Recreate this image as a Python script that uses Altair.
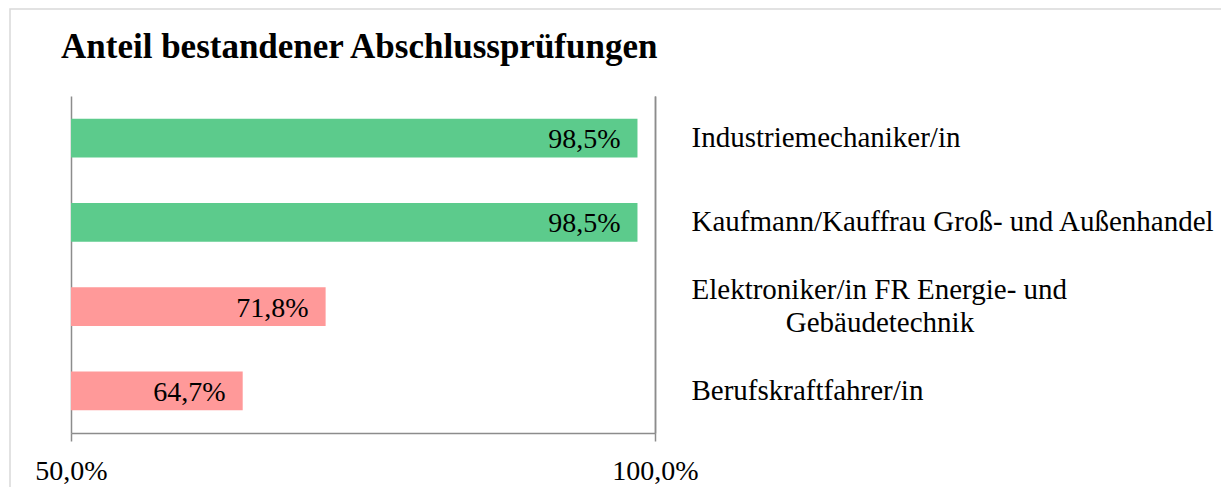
import altair as alt
import pandas as pd

# ---- data ----
categories = [
    "Industriemechaniker/in",
    "Kaufmann/Kauffrau Groß- und Außenhandel",
    "Elektroniker/in FR Energie- und Gebäudetechnik",
    "Berufskraftfahrer/in",
]
values = [98.5, 98.5, 71.8, 64.7]
groups = ["hoch", "hoch", "niedrig", "niedrig"]
tick_values = [50, 100]
title_text = "Anteil bestandener Abschlussprüfungen"

df = pd.DataFrame({"Beruf": categories, "Anteil": values, "Gruppe": groups})

SERIF = "Liberation Serif"
GRAY = "#8c8c8c"
W, H = 584, 337

TWO_LINE = "Elektroniker/in FR Energie- und Gebäudetechnik"
indent = "\u200b" + "\u00a0" * 13
label_expr = (
    "datum.label == '" + TWO_LINE + "' ? "
    "['Elektroniker/in FR Energie- und', '" + indent + "Gebäudetechnik'] : datum.label"
)

y_enc = alt.Y(
    "Beruf:N",
    sort=categories,
    scale=alt.Scale(paddingInner=0.54, paddingOuter=0.27),
    axis=alt.Axis(
        orient="right",
        title=None,
        ticks=False,
        domain=True,
        domainColor=GRAY,
        domainWidth=1.5,
        labelPadding=36,
        labelLimit=1000,
        labelFont=SERIF,
        labelFontSize=29,
        labelColor="black",
        labelAlign="left",
        labelBaseline={
            "condition": {"test": "datum.value == '" + TWO_LINE + "'", "value": "line-bottom"},
            "value": "middle",
        },
        labelLineHeight=33,
        labelExpr=label_expr,
        grid=False,
    ),
)

x_enc = alt.X(
    "Anteil:Q",
    scale=alt.Scale(domain=[50, 100], zero=False, nice=False),
    axis=alt.Axis(
        values=tick_values,
        title=None,
        grid=True,
        gridColor=GRAY,
        gridWidth=1.5,
        domainColor=GRAY,
        domainWidth=1.5,
        tickColor=GRAY,
        tickWidth=1.5,
        tickSize=8,
        labelFont=SERIF,
        labelFontSize=28,
        labelColor="black",
        labelPadding=16,
        labelFlush=False,
        labelExpr="replace(format(datum.value, '.1f'), '.', ',') + '%'",
    ),
)

base = alt.Chart(df)

bars = base.mark_bar().encode(
    x=x_enc,
    x2=alt.datum(50),
    y=y_enc,
    color=alt.Color(
        "Gruppe:N",
        scale=alt.Scale(domain=["hoch", "niedrig"], range=["#5ccb8c", "#ff9999"]),
        legend=None,
    ),
)

texts = base.transform_calculate(
    lbl="replace(format(datum.Anteil, '.1f'), '.', ',') + '%'"
).mark_text(
    align="right", baseline="middle", dx=-17, dy=2, font=SERIF, fontSize=28, color="black"
).encode(
    x="Anteil:Q",
    y=alt.Y("Beruf:N", sort=categories),
    text="lbl:N",
)

frame = alt.Chart(pd.DataFrame({"f": [0]})).mark_rect(
    fill=None, stroke="#d9d9d9", strokeWidth=1.5, clip=False
).encode(
    x=alt.value(-61),
    x2=alt.value(W + 700),
    y=alt.value(-87),
    y2=alt.value(H + 300),
)

chart = (
    alt.layer(frame, bars, texts)
    .properties(
        width=W,
        height=H,
        padding={"left": 63, "top": 88, "right": 566, "bottom": 54},
        autosize=alt.AutoSizeParams(type="none"),
        title=alt.TitleParams(
            title_text,
            font=SERIF,
            fontSize=35,
            fontWeight="bold",
            color="black",
            anchor="start",
            frame="group",
            dx=-10,
            dy=121,
            baseline="alphabetic",
            offset=36,
        ),
    )
    .configure_view(stroke=None)
)

chart.save("out.html", embed_options={"renderer": "svg", "actions": False})
